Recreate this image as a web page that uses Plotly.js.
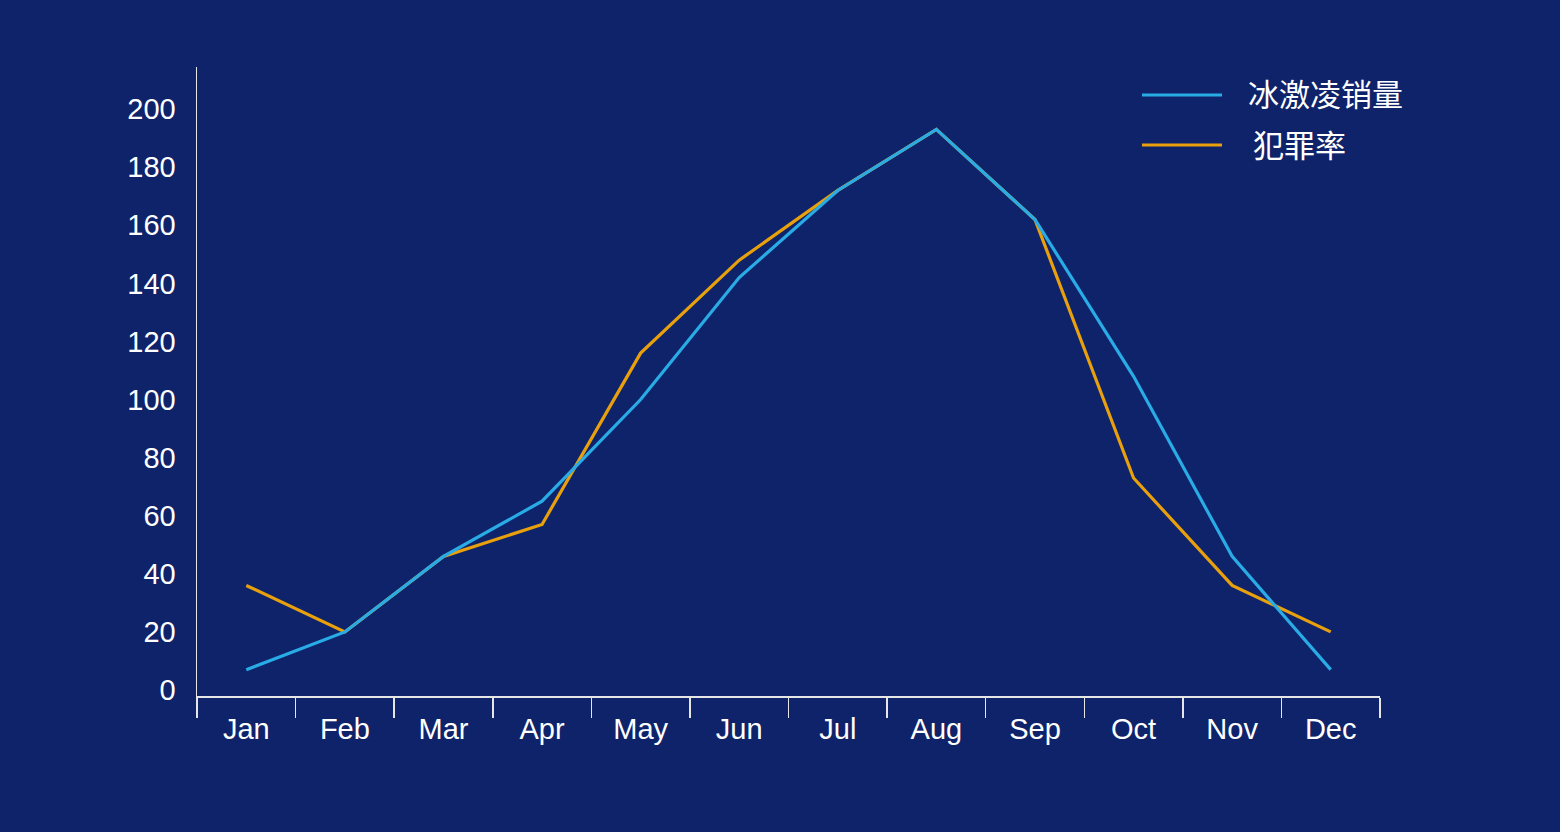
<!DOCTYPE html>
<html>
<head>
<meta charset="utf-8">
<script src="https://cdn.plot.ly/plotly-3.0.1.min.js"></script>
<style>
  html, body { margin: 0; padding: 0; background: #0f236a; }
  #plotDiv { width: 1560px; height: 832px; }
</style>
</head>
<body>
<div id="plotDiv"></div>
<script>
'use strict';

const months = ['Jan', 'Feb', 'Mar', 'Apr', 'May', 'Jun', 'Jul', 'Aug', 'Sep', 'Oct', 'Nov', 'Dec'];
const iceCream = [7, 20, 46, 65, 100, 142, 172, 193, 162, 108, 46, 7];
const crime = [36, 20, 46, 57, 116, 148, 172, 193, 162, 73, 36, 20];
const seriesNames = ['冰激凌销量', '犯罪率'];
const seriesColors = ['#29abe6', '#e8a00c'];

const bg = '#0f236a';
const axisColor = '#e6e6e6';
const font = 'Liberation Sans, Arial, Helvetica, sans-serif';

// crime first so the blue line sits on top
var data = [
    {x: months, y: crime, name: seriesNames[1], type: 'scatter', mode: 'lines',
     line: {color: seriesColors[1], width: 3.2}},
    {x: months, y: iceCream, name: seriesNames[0], type: 'scatter', mode: 'lines',
     line: {color: seriesColors[0], width: 3.2}}
];

// hand-built legend: long line samples like the original
var shapes = [];
var annotations = [];
for (var k = 0; k < seriesNames.length; k++) {
    var yy = 95 + k * 50;
    shapes.push({
        type: 'line', xref: 'paper', yref: 'paper',
        x0: (1142 - 197) / 1183, x1: (1222 - 197) / 1183,
        y0: (696 - yy) / 629, y1: (696 - yy) / 629,
        line: {color: seriesColors[k], width: 3.2}
    });
    annotations.push({
        xref: 'paper', yref: 'paper', showarrow: false,
        x: (1246 + k * 5 - 197) / 1183, y: (698 - yy) / 629,
        xanchor: 'left', yanchor: 'middle',
        text: seriesNames[k],
        font: {family: 'Noto Sans CJK SC, sans-serif', size: 31, color: '#ffffff'}
    });
}

var layout = {
    width: 1560,
    height: 832,
    paper_bgcolor: bg,
    plot_bgcolor: bg,
    showlegend: false,
    margin: {l: 197, r: 180, t: 67, b: 136, pad: 0},
    font: {family: font, size: 29, color: '#ffffff'},
    xaxis: {
        type: 'category',
        range: [-0.5, 11.5],
        showline: true, linecolor: axisColor, linewidth: 1.5,
        ticks: 'outside', tickson: 'boundaries', ticklen: 20,
        tickwidth: 1.5, tickcolor: axisColor,
        ticklabelstandoff: 7,
        showgrid: false, zeroline: false,
        tickfont: {family: font, size: 29, color: '#ffffff'}
    },
    yaxis: {
        range: [-2.07, 214.5],
        tick0: 0, dtick: 20,
        showline: true, linecolor: axisColor, linewidth: 1.5,
        ticks: '', ticklabelstandoff: 14,
        showgrid: false, zeroline: false,
        tickfont: {family: font, size: 29, color: '#ffffff'}
    },
    shapes: shapes,
    annotations: annotations
};

Plotly.newPlot('plotDiv', data, layout, {displayModeBar: false, staticPlot: true});
</script>
</body>
</html>
